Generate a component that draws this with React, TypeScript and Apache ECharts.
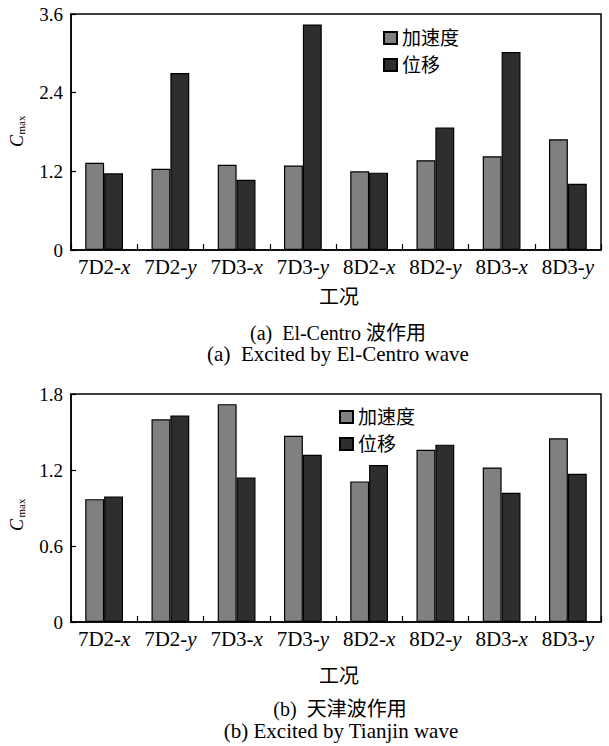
import React, { useEffect, useRef } from "react";
import * as echarts from "echarts";

const categories = ["7D2-x", "7D2-y", "7D3-x", "7D3-y", "8D2-x", "8D2-y", "8D3-x", "8D3-y"];
const seriesNames = ["加速度", "位移"];
const elCentroAcc = [1.33, 1.24, 1.3, 1.29, 1.2, 1.37, 1.43, 1.69];
const elCentroDisp = [1.17, 2.7, 1.07, 3.44, 1.18, 1.87, 3.02, 1.01];
const tianjinAcc = [0.97, 1.6, 1.72, 1.47, 1.11, 1.36, 1.22, 1.45];
const tianjinDisp = [0.99, 1.63, 1.14, 1.32, 1.24, 1.4, 1.02, 1.17];
const xAxisTitle = "工况";
const captionsTop = ["(a)  El-Centro 波作用", "(a)  Excited by El-Centro wave"];
const captionsBottom = ["(b)  天津波作用", "(b) Excited by Tianjin wave"];

const FONT = "'Liberation Serif', 'Noto Sans CJK SC', serif";
const ACC_COLOR = "#808080";
const DISP_COLOR = "#2e2e2e";

export default function App() {
  const ref = useRef<HTMLDivElement>(null);
  useEffect(() => {
    if (!ref.current) return;
    const chart = echarts.init(ref.current, undefined, { renderer: "svg" });
    const grids = [
      { left: 71, top: 14, width: 530, height: 236 },
      { left: 71, top: 394, width: 530, height: 228 },
    ];
    const xAxisCommon = (gi: number) => ({
      type: "category",
      gridIndex: gi,
      data: categories,
      axisLine: { lineStyle: { color: "#000", width: 1.5 } },
      axisTick: { show: true, inside: true, length: 6, alignWithLabel: false, lineStyle: { color: "#000", width: 1.2 } },
      axisLabel: {
        color: "#000",
        fontFamily: FONT,
        fontSize: 21,
        margin: 6,
        interval: 0,
        hideOverlap: false,
        formatter: (v: string) => v.replace(/-(x|y)$/, "-{i|$1}"),
        rich: {
          i: { fontStyle: "italic", fontFamily: FONT, fontSize: 21, color: "#000" },
        },
      },
      splitLine: { show: false },
    });
    const yAxisCommon = (gi: number, max: number, interval: number) => ({
      type: "value",
      gridIndex: gi,
      min: 0,
      max,
      interval,
      axisLine: { show: true, lineStyle: { color: "#000", width: 1.5 } },
      axisTick: { show: true, inside: true, length: 5, lineStyle: { color: "#000", width: 1.2 } },
      axisLabel: { color: "#000", fontFamily: FONT, fontSize: 19, margin: 8 },
      splitLine: { show: false },
    });
    const barCommon = {
      type: "bar",
      barGap: "0%",
      barCategoryGap: "43%",
    };
    const accStyle = { color: ACC_COLOR, borderColor: "#000", borderWidth: 1.2 };
    const dispStyle = { color: DISP_COLOR, borderColor: "#000", borderWidth: 1.2 };
    const legendCommon = {
      orient: "vertical",
      icon: "rect",
      itemWidth: 13,
      itemHeight: 12,
      itemGap: 7,
      data: seriesNames,
      textStyle: { fontFamily: FONT, fontSize: 19, color: "#000", lineHeight: 20 },
      selectedMode: false,
    };
    const txt = (text: string, x: number, y: number, size = 20, extra: any = {}) => ({
      type: "text",
      x,
      y,
      silent: true,
      ...extra,
      style: {
        text,
        fontFamily: FONT,
        fontSize: size,
        fill: "#000",
        align: "center",
        verticalAlign: "middle",
        ...(extra.style || {}),
      },
    });
    chart.setOption({
      animation: false,
      backgroundColor: "#fff",
      grid: grids.map((g) => ({
        ...g,
        show: true,
        borderColor: "#000",
        borderWidth: 1.5,
        backgroundColor: "transparent",
        containLabel: false,
      })),
      legend: [
        { ...legendCommon, left: 378, top: 23 },
        { ...legendCommon, left: 334, top: 402 },
      ],
      xAxis: [xAxisCommon(0), xAxisCommon(1)],
      yAxis: [yAxisCommon(0, 3.6, 1.2), yAxisCommon(1, 1.8, 0.6)],
      series: [
        { ...barCommon, name: seriesNames[0], xAxisIndex: 0, yAxisIndex: 0, data: elCentroAcc, itemStyle: accStyle },
        { ...barCommon, name: seriesNames[1], xAxisIndex: 0, yAxisIndex: 0, data: elCentroDisp, itemStyle: dispStyle },
        { ...barCommon, name: seriesNames[0], xAxisIndex: 1, yAxisIndex: 1, data: tianjinAcc, itemStyle: accStyle },
        { ...barCommon, name: seriesNames[1], xAxisIndex: 1, yAxisIndex: 1, data: tianjinDisp, itemStyle: dispStyle },
      ],
      graphic: [
        txt("C", 17, 141, 18, { rotation: Math.PI / 2, style: { fontStyle: "italic" } }),
        txt("max", 21, 125, 11, { rotation: Math.PI / 2 }),
        txt("C", 17, 525, 18, { rotation: Math.PI / 2, style: { fontStyle: "italic" } }),
        txt("max", 21, 508, 11, { rotation: Math.PI / 2 }),
        txt(xAxisTitle, 339, 297, 20),
        txt(captionsTop[0], 338, 333, 20),
        txt(captionsTop[1], 338, 354, 21),
        txt(xAxisTitle, 339, 676, 20),
        txt(captionsBottom[0], 340, 709, 20),
        txt(captionsBottom[1], 341, 731, 21),
      ],
    });
    return () => chart.dispose();
  }, []);
  return (
    <div
      ref={ref}
      style={{ position: "absolute", left: 0, top: 0, width: 609, height: 746, background: "#fff" }}
    />
  );
}
